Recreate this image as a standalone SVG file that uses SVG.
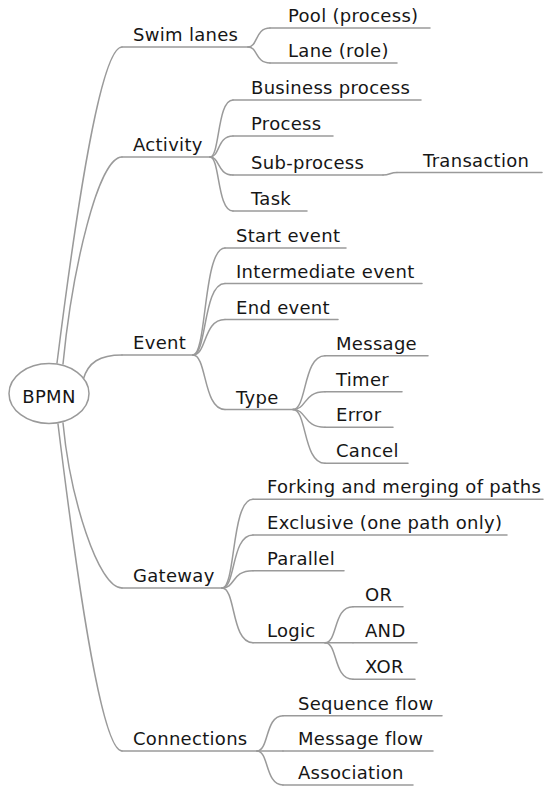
<svg xmlns="http://www.w3.org/2000/svg" width="555" height="787" viewBox="0 0 555 787">
  <style>
    .ln { fill: none; stroke: #9a9a9a; stroke-width: 1.5; stroke-linecap: round; }
    .t { font-family: "DejaVu Sans", "Noto Sans", sans-serif; font-size: 18px; letter-spacing: 0.3px; fill: #161616; }
    .root { fill: #ffffff; stroke: #9a9a9a; stroke-width: 1.5; }
  </style>
  <rect width="555" height="787" fill="#ffffff"/>

  <!-- connectors -->
  <g id="connectors" class="ln">
    <!-- from the central topic -->
    <path d="M57 363 C75 220 100 47 122 47"/>
    <path d="M63 364 C72 271 98 157 122 157"/>
    <path d="M83 380 C88 362 100 355 122 355"/>
    <path d="M63 423 C70 497 98 588 122 588"/>
    <path d="M58 424 C76 571 101 751 122 751"/>
    <!-- Swim lanes -->
    <path d="M248 47 C258 47 255 28 270 28"/>
    <path d="M248 47 C258 47 255 63 270 63"/>
    <!-- Activity -->
    <path d="M210 157 C220 157 217 100 233 100"/>
    <path d="M210 157 C220 157 217 136 233 136"/>
    <path d="M210 157 C220 157 217 175 233 175"/>
    <path d="M210 157 C220 157 217 211 233 211"/>
    <path d="M383 175 C390 175 390 172.5 397 172.5"/>
    <!-- Event -->
    <path d="M193 355 C207 355 203 248 225 248"/>
    <path d="M193 355 C207 355 203 283.5 225 283.5"/>
    <path d="M193 355 C207 355 203 319.5 225 319.5"/>
    <path d="M193 355 C207 355 203 409.5 225 409.5"/>
    <!-- Type -->
    <path d="M293 409.5 C307 409.5 303 355.7 325 355.7"/>
    <path d="M293 409.5 C307 409.5 303 391.7 325 391.7"/>
    <path d="M293 409.5 C307 409.5 303 427.3 325 427.3"/>
    <path d="M293 409.5 C307 409.5 303 463.3 325 463.3"/>
    <!-- Gateway -->
    <path d="M222 588 C236 588 231 499.3 253 499.3"/>
    <path d="M222 588 C236 588 231 535 253 535"/>
    <path d="M222 588 C236 588 231 570.7 253 570.7"/>
    <path d="M222 588 C236 588 231 642.7 253 642.7"/>
    <!-- Logic -->
    <path d="M325 642.7 C338 642.7 333 606.7 353 606.7"/>
    <path d="M325 642.7 L353 642.7"/>
    <path d="M325 642.7 C338 642.7 333 679.3 353 679.3"/>
    <!-- Connections -->
    <path d="M257 751 C269 751 265 715.7 283 715.7"/>
    <path d="M257 751 L283 751"/>
    <path d="M257 751 C269 751 265 785 283 785"/>
  </g>

  <!-- central topic -->
  <g id="bpmn">
    <ellipse class="root" cx="49" cy="393.5" rx="40" ry="30"/>
    <text class="t" x="49" y="403" text-anchor="middle">BPMN</text>
  </g>

  <!-- main branches -->
  <g id="swim-lanes"><line class="ln" x1="122" y1="47" x2="248" y2="47"/><text class="t" x="133" y="41">Swim lanes</text></g>
  <g id="pool"><line class="ln" x1="270" y1="28" x2="430" y2="28"/><text class="t" x="288" y="22">Pool (process)</text></g>
  <g id="lane"><line class="ln" x1="270" y1="63" x2="397" y2="63"/><text class="t" x="288" y="57">Lane (role)</text></g>

  <g id="activity"><line class="ln" x1="122" y1="157" x2="210" y2="157"/><text class="t" x="133" y="151">Activity</text></g>
  <g id="business-process"><line class="ln" x1="233" y1="100" x2="421" y2="100"/><text class="t" x="251" y="94">Business process</text></g>
  <g id="process"><line class="ln" x1="233" y1="136" x2="333" y2="136"/><text class="t" x="251" y="130">Process</text></g>
  <g id="sub-process"><line class="ln" x1="233" y1="175" x2="383" y2="175"/><text class="t" x="251" y="169">Sub-process</text></g>
  <g id="transaction"><line class="ln" x1="397" y1="172.5" x2="542" y2="172.5"/><text class="t" x="423" y="166.5">Transaction</text></g>
  <g id="task"><line class="ln" x1="233" y1="211" x2="307" y2="211"/><text class="t" x="251" y="205">Task</text></g>

  <g id="event"><line class="ln" x1="122" y1="355" x2="193" y2="355"/><text class="t" x="133" y="349">Event</text></g>
  <g id="start-event"><line class="ln" x1="225" y1="248" x2="346" y2="248"/><text class="t" x="236" y="242">Start event</text></g>
  <g id="intermediate-event"><line class="ln" x1="225" y1="283.5" x2="422" y2="283.5"/><text class="t" x="236" y="277.5">Intermediate event</text></g>
  <g id="end-event"><line class="ln" x1="225" y1="319.5" x2="338" y2="319.5"/><text class="t" x="236" y="313.5">End event</text></g>
  <g id="type"><line class="ln" x1="225" y1="409.5" x2="293" y2="409.5"/><text class="t" x="236" y="403.5">Type</text></g>
  <g id="message"><line class="ln" x1="325" y1="355.7" x2="428" y2="355.7"/><text class="t" x="336" y="349.7">Message</text></g>
  <g id="timer"><line class="ln" x1="325" y1="391.7" x2="402" y2="391.7"/><text class="t" x="336" y="385.7">Timer</text></g>
  <g id="error"><line class="ln" x1="325" y1="427.3" x2="393" y2="427.3"/><text class="t" x="336" y="421.3">Error</text></g>
  <g id="cancel"><line class="ln" x1="325" y1="463.3" x2="408" y2="463.3"/><text class="t" x="336" y="457.3">Cancel</text></g>

  <g id="gateway"><line class="ln" x1="122" y1="588" x2="222" y2="588"/><text class="t" x="133" y="582">Gateway</text></g>
  <g id="forking"><line class="ln" x1="253" y1="499.3" x2="543" y2="499.3"/><text class="t" x="267" y="493.3">Forking and merging of paths</text></g>
  <g id="exclusive"><line class="ln" x1="253" y1="535" x2="507" y2="535"/><text class="t" x="267" y="529">Exclusive (one path only)</text></g>
  <g id="parallel"><line class="ln" x1="253" y1="570.7" x2="344" y2="570.7"/><text class="t" x="267" y="564.7">Parallel</text></g>
  <g id="logic"><line class="ln" x1="253" y1="642.7" x2="325" y2="642.7"/><text class="t" x="267" y="636.7">Logic</text></g>
  <g id="or"><line class="ln" x1="353" y1="606.7" x2="403" y2="606.7"/><text class="t" x="365" y="600.7">OR</text></g>
  <g id="and"><line class="ln" x1="353" y1="642.7" x2="417" y2="642.7"/><text class="t" x="365" y="636.7">AND</text></g>
  <g id="xor"><line class="ln" x1="353" y1="679.3" x2="415" y2="679.3"/><text class="t" x="365" y="673.3">XOR</text></g>

  <g id="connections"><line class="ln" x1="122" y1="751" x2="257" y2="751"/><text class="t" x="133" y="745">Connections</text></g>
  <g id="sequence-flow"><line class="ln" x1="283" y1="715.7" x2="442" y2="715.7"/><text class="t" x="298" y="709.7">Sequence flow</text></g>
  <g id="message-flow"><line class="ln" x1="283" y1="751" x2="433" y2="751"/><text class="t" x="298" y="745">Message flow</text></g>
  <g id="association"><line class="ln" x1="283" y1="785" x2="413" y2="785"/><text class="t" x="298" y="779">Association</text></g>
</svg>
